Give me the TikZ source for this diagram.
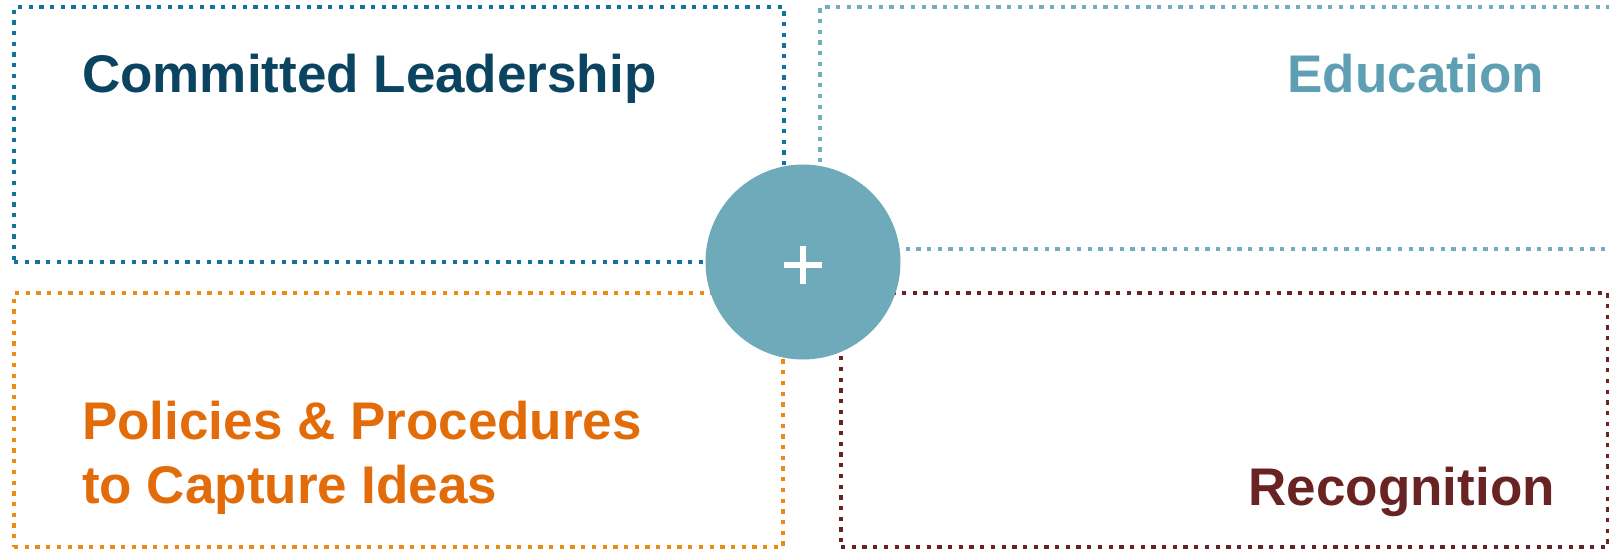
\documentclass[tikz,border=0pt]{standalone}
\usepackage{fontspec}
\setmainfont{Liberation Sans}
\usetikzlibrary{positioning}
\definecolor{leadblue}{HTML}{0B4461}
\definecolor{leadline}{HTML}{13739A}
\definecolor{edublue}{HTML}{5E9FB3}
\definecolor{eduline}{HTML}{72AEC0}
\definecolor{policyorange}{HTML}{E36C0A}
\definecolor{policyline}{HTML}{EE8A12}
\definecolor{recogbrown}{HTML}{692323}
\definecolor{hubfill}{HTML}{6FAABA}
\tikzset{
box/.style={draw, line width=4.3pt, dash pattern=on 4.3pt off 6.4pt, inner sep=0pt}, % dotted frame of each pillar
title/.style={font=\bfseries\fontsize{53}{64}\selectfont, inner sep=0pt, align=left},
hub/.style={circle, fill=hubfill, minimum size=195pt, inner sep=0pt},
}
\begin{document}
\begin{tikzpicture}[x=1pt, y=-1pt]
    \useasboundingbox (0,0) rectangle (1609,550);
    \clip (0,0) rectangle (1609,550);
    % the four pillars
    \node[box, leadline, minimum width=770pt, minimum height=255pt] (lead) at (399,134.5) {};
    \node[box, eduline, minimum width=820pt, minimum height=242pt] (edu) at (1230,128) {};
    \node[box, policyline, minimum width=769pt, minimum height=254pt] (policy) at (398.5,420) {};
    \node[box, recogbrown, minimum width=767pt, minimum height=254pt] (recog) at (1224.5,420) {};
    % labels
    \node[title, text=leadblue, anchor=base west] (leadtxt) at (82,92) {Committed Leadership};
    \node[title, text=edublue, anchor=base east] (edutxt) at (1544,92) {Education};
    \node[title, text=policyorange, anchor=base west] (policytxt) at (82,503) {Policies \& Procedures\\to Capture Ideas};
    \node[title, text=recogbrown, anchor=base east] (recogtxt) at (1555,505) {Recognition};
    % the hub
    \node[hub] (plus) at (803,262) {};
    \draw[white, line width=6.5pt] ([shift={(-19,3)}]plus.center) -- ([shift={(19,3)}]plus.center);
    \draw[white, line width=6.5pt] ([shift={(0,-16)}]plus.center) -- ([shift={(0,22)}]plus.center);
  \end{tikzpicture}
\end{document}
